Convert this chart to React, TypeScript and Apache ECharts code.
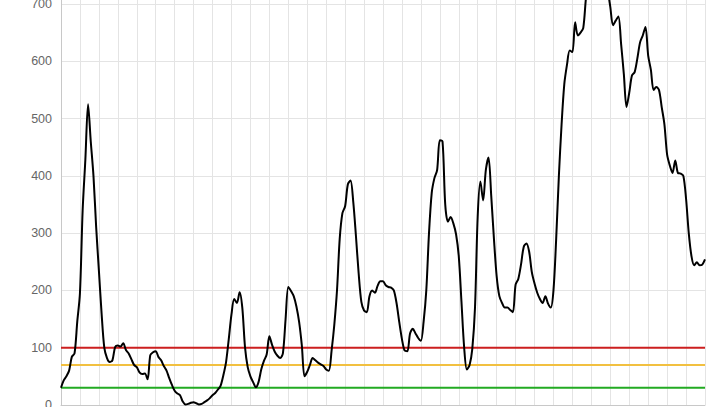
import React, { useEffect, useRef } from "react";
import * as echarts from "echarts";

const values: number[] = [
  30, 43, 50, 60, 84, 90, 145, 195, 340, 428,
  525, 460, 400, 310, 235, 160, 100, 82, 75, 78,
  101, 104, 102, 108, 96, 90, 80, 70, 66, 57,
  54, 55, 45, 87, 92, 94, 84, 78, 68, 60,
  47, 35, 25, 20, 17, 6, 1, 2, 4, 5,
  3, 1, 2, 5, 8, 12, 17, 21, 27, 34,
  52, 75, 115, 158, 185, 178, 197, 170, 101, 66,
  50, 40, 31, 40, 62, 77, 88, 120, 105, 93,
  86, 82, 90, 150, 206, 199, 190, 172, 145, 104,
  50, 58, 70, 82, 78, 74, 71, 68, 62, 60,
  95, 140, 200, 290, 335, 347, 385, 392, 355, 295,
  230, 180, 165, 162, 190, 200, 196, 208, 216, 216,
  209, 206, 205, 200, 178, 145, 115, 95, 94, 125,
  133, 125, 117, 112, 145, 200, 300, 370, 396, 410,
  462, 460, 350, 320, 328, 317, 298, 260, 180, 100,
  62, 70, 98, 170, 330, 390, 357, 410, 432, 365,
  290, 225, 190, 178, 170, 170, 166, 162, 210, 220,
  245, 276, 282, 268, 232, 212, 196, 185, 178, 190,
  177, 170, 200, 290, 400, 490, 560, 594, 619, 616,
  668, 645, 650, 658, 710, 745, 765, 770, 765, 760,
  755, 745, 725, 695, 663, 671, 678, 630, 578, 520,
  545, 575, 581, 605, 633, 645, 660, 610, 585, 550,
  555, 550, 520, 490, 437, 418, 405, 427, 405, 404,
  400, 360, 300, 260, 244, 249, 244, 245, 254,
];

const categories: string[] = values.map((_, i) => String(i + 1));

const thresholds = [
  { value: 100, color: "#cc1f1f" },
  { value: 70, color: "#f2c040" },
  { value: 30, color: "#22aa22" },
];

const yTicks = { min: 0, max: 800, interval: 100 };

export default function App() {
  const ref = useRef<HTMLDivElement>(null);
  useEffect(() => {
    if (!ref.current) return;
    const chart = echarts.init(ref.current, undefined, { renderer: "svg" });
    chart.setOption({
      animation: false,
      backgroundColor: "#ffffff",
      grid: {
        left: 61,
        right: 18,
        top: 6.7,
        bottom: 2,
        containLabel: false,
        outerBoundsMode: "none",
      },
      xAxis: {
        type: "category",
        data: categories,
        boundaryGap: false,
        axisLine: { show: true, lineStyle: { color: "#c8c8c8" } },
        axisTick: { show: false },
        axisLabel: { show: false },
        splitLine: { show: true, interval: 6, lineStyle: { color: "#e4e4e4", width: 1 } },
      },
      yAxis: {
        type: "value",
        min: yTicks.min,
        max: yTicks.max,
        interval: yTicks.interval,
        axisLine: { show: true, lineStyle: { color: "#c8c8c8" } },
        axisTick: { show: false },
        axisLabel: {
          color: "#666666",
          fontSize: 12.5,
          fontFamily: "Liberation Sans, Arial, sans-serif",
          margin: 9,
        },
        splitLine: { show: true, lineStyle: { color: "#e4e4e4", width: 1 } },
      },
      series: [
        {
          type: "line",
          data: values,
          smooth: 0.3,
          showSymbol: false,
          symbol: "none",
          lineStyle: { color: "#000000", width: 2 },
          z: 3,
        },
        ...thresholds.map((t) => ({
          type: "line",
          data: categories.map(() => t.value),
          showSymbol: false,
          symbol: "none",
          lineStyle: { color: t.color, width: 2 },
          z: 2,
        })),
      ],
    });
    return () => chart.dispose();
  }, []);
  return (
    <div style={{ position: "fixed", left: 0, top: 0, width: 723, height: 407, overflow: "hidden", background: "#fff" }}>
      <div
        ref={ref}
        style={{ position: "absolute", left: 0, top: -60, width: 723, height: 467 }}
      />
    </div>
  );
}
